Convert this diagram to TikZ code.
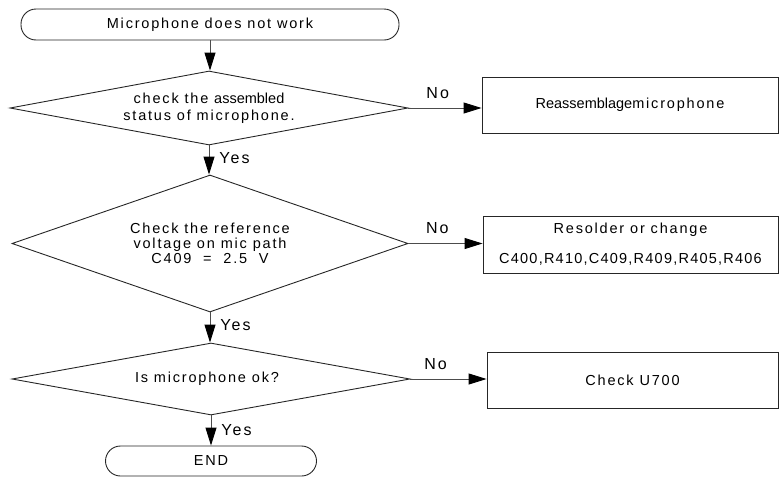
\documentclass[tikz,border=0pt]{standalone}
\usepackage{fontspec}
\setmainfont{Liberation Sans}[LetterSpace=12.5]
\newfontfamily\tightfont{Liberation Sans}
\newfontfamily\midfont{Liberation Sans}[LetterSpace=8.5]
\usetikzlibrary{shapes.geometric,arrows.meta}
\begin{document}
\begin{tikzpicture}[x=1pt,y=-1pt,
  line width=0.9pt,
  every node/.style={font=\fontsize{14.5}{15}\selectfont},
  term/.style={draw=black!85, rectangle, rounded corners=15pt, inner sep=0},
  dia/.style={draw=black!85, diamond, inner sep=0},
  box/.style={draw=black!85, rectangle, inner sep=0, align=center},
  txt/.style={align=center, inner sep=0},
  arr/.style={draw=black!70, -{Triangle[length=18pt,width=11pt,color=black]}},
  lbl/.style={font=\fontsize{16}{16}\selectfont, inner sep=0}
]
\useasboundingbox (0,0) rectangle (779,477);

\node[term, minimum width=378pt, minimum height=31pt] (s) at (210,24.5) {Microphone does not work};

\node[dia, minimum width=398pt, minimum height=74pt] (d1) at (209,108) {};
\node[txt] (t1) at (209,108.5) {check the {\tightfont assembled}\\[2pt]status of microphone.};
\node[box, minimum width=296pt, minimum height=56pt] (b1) at (630,105) {{\tightfont Reassemblage}microphone};

\node[dia, minimum width=396pt, minimum height=137pt] (d2) at (210,243.5) {};
\node[txt] (t2) at (210,243) {Check the reference\\voltage on mic path\\C409 \ = \ 2.5 \ V};
\node[box, minimum width=295pt, minimum height=57pt] (b2) at (630.5,244.5) {Resolder or change\\[15pt]{\midfont C400,R410,C409,R409,R405,R406}};

\node[dia, minimum width=398pt, minimum height=72pt] (d3) at (211,379) {};
\node[txt] (t3) at (207,379) {Is microphone ok?};
\node[box, minimum width=291pt, minimum height=56pt] (b3) at (632.5,380) {Check U700};

\node[term, minimum width=211pt, minimum height=30pt] (e) at (211,461) {END};

\draw[arr] (s.south) -- (s.south |- d1.north);
\draw[arr] (d1.south) -- node[lbl, anchor=west, xshift=10pt, pos=0.45] {Yes} (d1.south |- d2.north);
\draw[arr] (d2.south) -- node[lbl, anchor=west, xshift=10pt, pos=0.42] {Yes} (d2.south |- d3.north);
\draw[arr] (d3.south) -- node[lbl, anchor=west, xshift=10pt, pos=0.48] {Yes} (d3.south |- e.north);

\draw[arr] (d1.east) -- node[lbl, anchor=south, yshift=9pt, pos=0.4] {No} (d1.east -| b1.west);
\draw[arr] (d2.east) -- node[lbl, anchor=south, yshift=9pt, pos=0.39] {No} (d2.east -| b2.west);
\draw[arr] (d3.east) -- node[lbl, anchor=south, yshift=9pt, pos=0.33] {No} (d3.east -| b3.west);
\end{tikzpicture}
\end{document}
